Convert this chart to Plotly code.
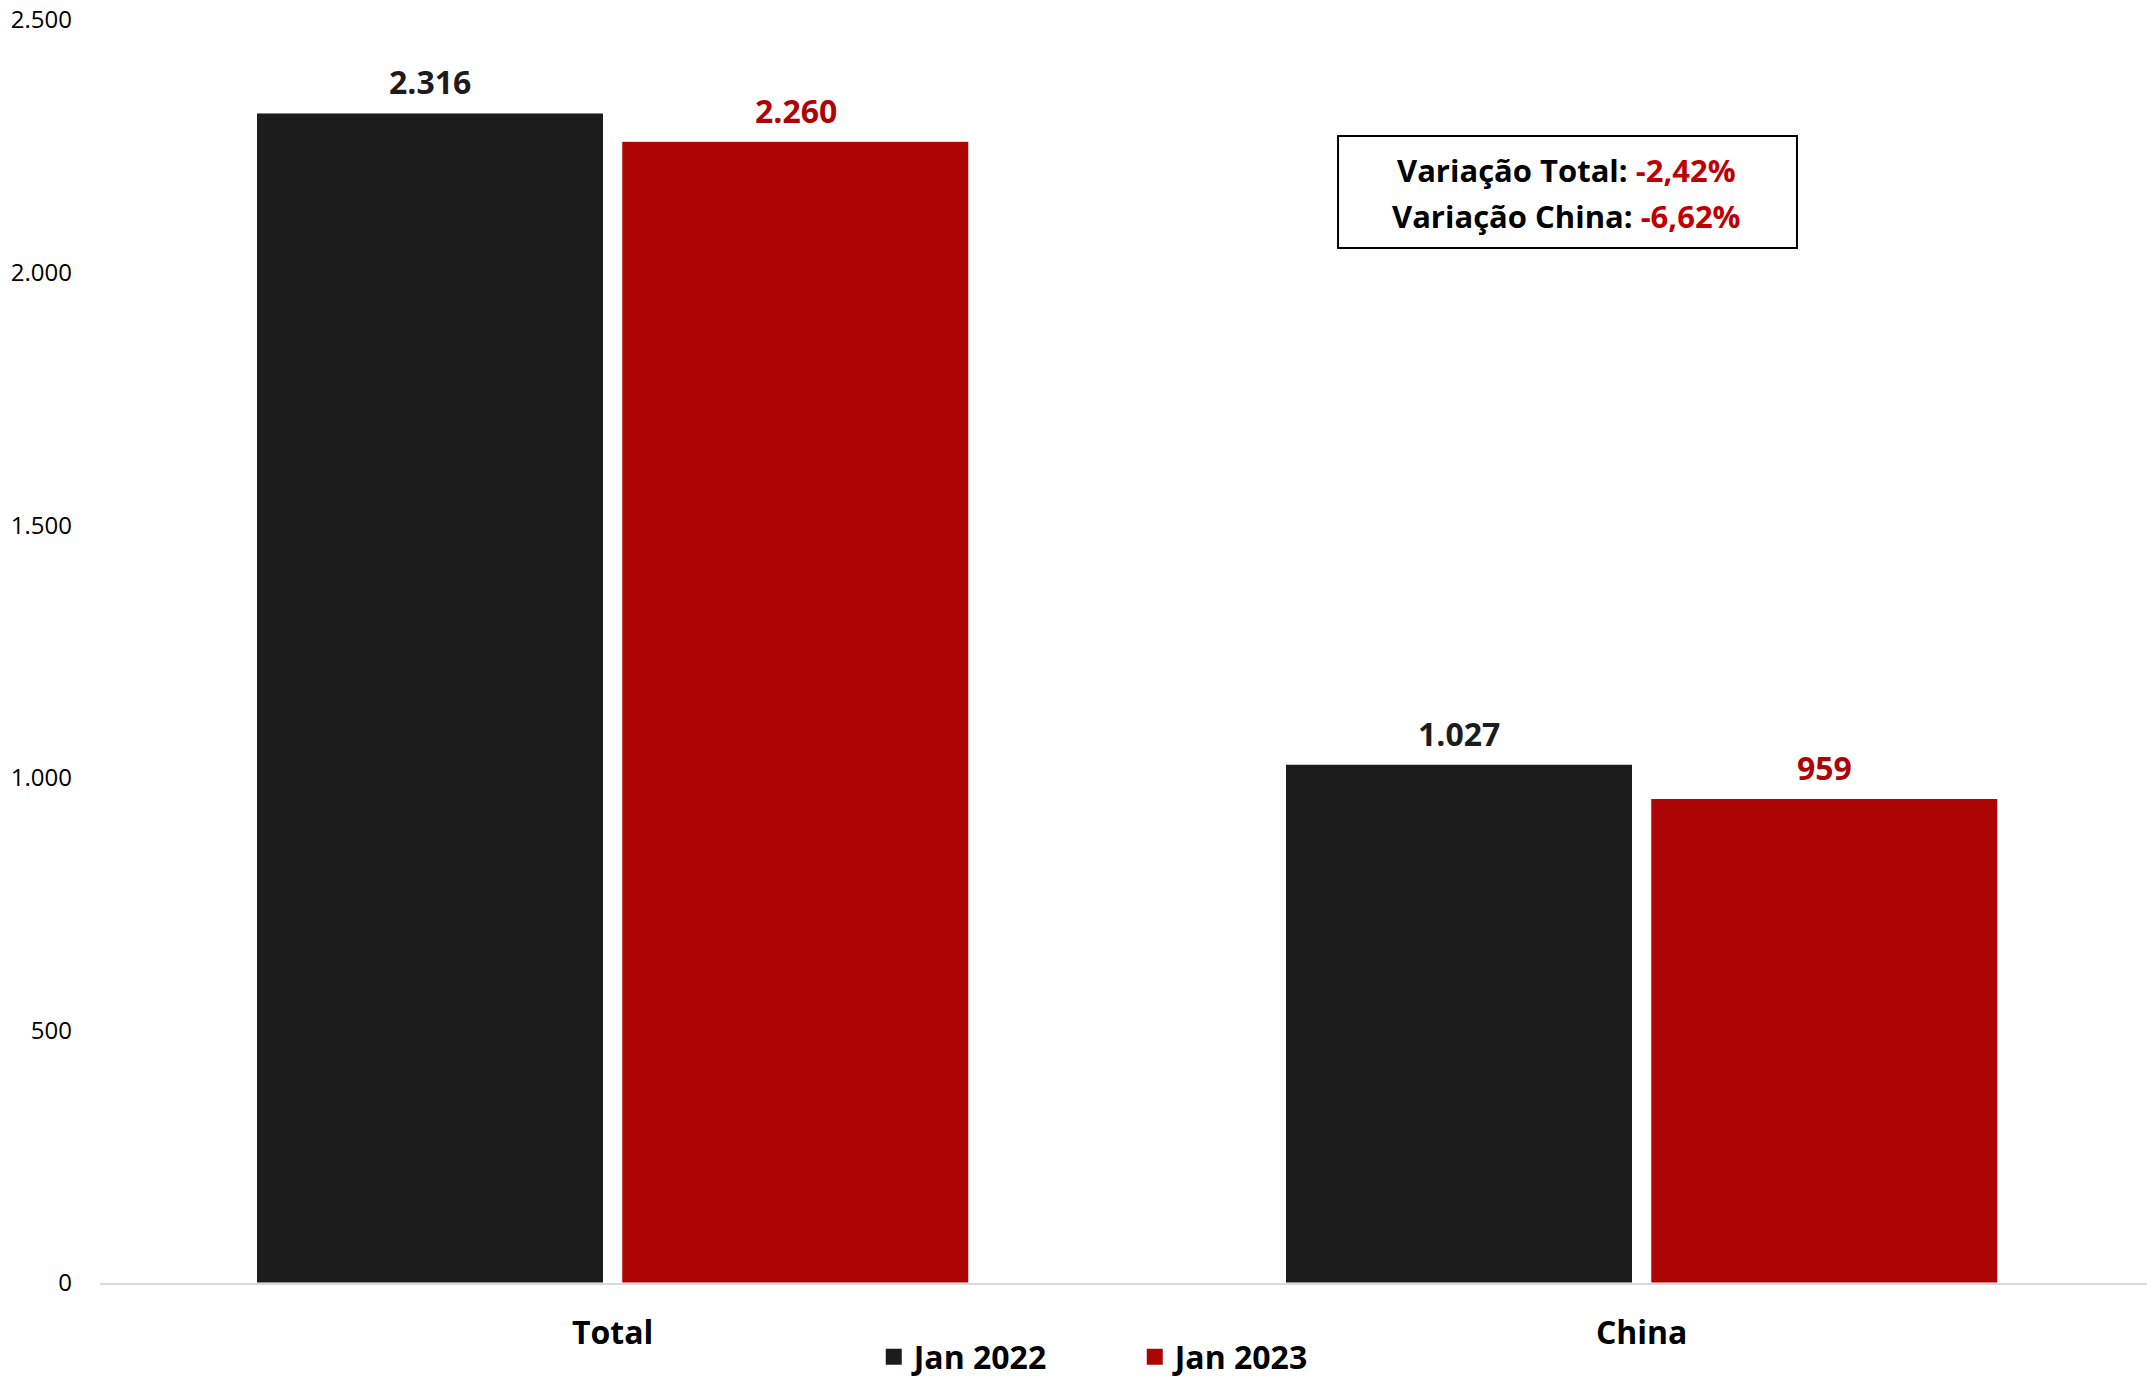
import plotly.graph_objects as go

categories = ["Total", "China"]
series_names = ["Jan 2022", "Jan 2023"]
jan_2022 = [2316, 1027]
jan_2023 = [2260, 959]
value_labels_2022 = ["2.316", "1.027"]
value_labels_2023 = ["2.260", "959"]
y_tickvals = [0, 500, 1000, 1500, 2000, 2500]
y_ticktext = ["0", "500", "1.000", "1.500", "2.000", "2.500"]
variation_labels = ["Variação Total: ", "Variação China: "]
variation_values = ["-2,42%", "-6,62%"]

FONT = "Open Sans"
BLACK = "#1c1c1c"
RED = "#ad0505"
RED_TXT = "#c00000"

fig = go.Figure()
fig.add_trace(go.Bar(x=categories, y=jan_2022, name=series_names[0], showlegend=False,
                     marker=dict(color=BLACK, line=dict(color="white", width=1))))
fig.add_trace(go.Bar(x=categories, y=jan_2023, name=series_names[1], showlegend=False,
                     marker=dict(color=RED, line=dict(color="white", width=1))))
# legend entries (square swatches)
for name, col in zip(series_names, [BLACK, RED]):
    fig.add_trace(go.Scatter(x=[None], y=[None], mode="markers", name=name,
                             marker=dict(symbol="square", size=22, color=col),
                             hoverinfo="skip"))

annotations = []
for cat, v, lab in zip(categories, jan_2022, value_labels_2022):
    annotations.append(dict(x=cat, y=v, text=lab, showarrow=False, xshift=-183, yshift=31,
                            yanchor="middle", font=dict(family=FONT, size=32, color=BLACK, weight="bold")))
for cat, v, lab in zip(categories, jan_2023, value_labels_2023):
    annotations.append(dict(x=cat, y=v, text=lab, showarrow=False, xshift=183, yshift=31,
                            yanchor="middle", font=dict(family=FONT, size=32, color=RED, weight="bold")))

for ypos, lab, val in zip([0.8812, 0.8448], variation_labels, variation_values):
    annotations.append(dict(
        xref="paper", yref="paper", x=0.7162, y=ypos, xanchor="center", yanchor="middle",
        showarrow=False, align="center",
        text=f"{lab}<span style='color:{RED_TXT}'>{val}</span>",
        font=dict(family=FONT, size=31, color="black", weight="bold"),
    ))

fig.update_layout(
    width=2147, height=1378,
    margin=dict(l=100, r=0, t=20, b=95, autoexpand=False),
    paper_bgcolor="white", plot_bgcolor="white",
    barmode="group", bargap=0.29, bargroupgap=0.05,
    showlegend=True,
    legend=dict(orientation="h", x=0.5055, y=-0.0585, xanchor="center", yanchor="middle",
                font=dict(family=FONT, size=32, color="black", weight="bold"),
                bgcolor="rgba(0,0,0,0)", entrywidth=216, entrywidthmode="pixels"),
    annotations=annotations,
    shapes=[dict(type="rect", xref="paper", yref="paper", x0=0.6048, x1=0.8290,
                 y0=0.8195, y1=0.9082, line=dict(color="black", width=2),
                 fillcolor="white", layer="below")],
    font=dict(family=FONT),
)
fig.update_xaxes(range=[-0.4982, 1.4911], showline=True, linecolor="#d9d9d9", linewidth=2,
                 showgrid=False, ticks="", ticklabelstandoff=21, automargin=False,
                 tickfont=dict(family=FONT, size=32, color="black", weight="bold"))
fig.update_yaxes(range=[0, 2500], tickvals=y_tickvals, ticktext=y_ticktext,
                 showgrid=False, zeroline=False, showline=False, ticks="",
                 ticklabelstandoff=27, automargin=False,
                 tickfont=dict(family=FONT, size=24, color="black"))

fig.write_html("out.html", config={"displayModeBar": False},
               post_script="document.body.style.margin='0';document.body.style.overflow='hidden';")
